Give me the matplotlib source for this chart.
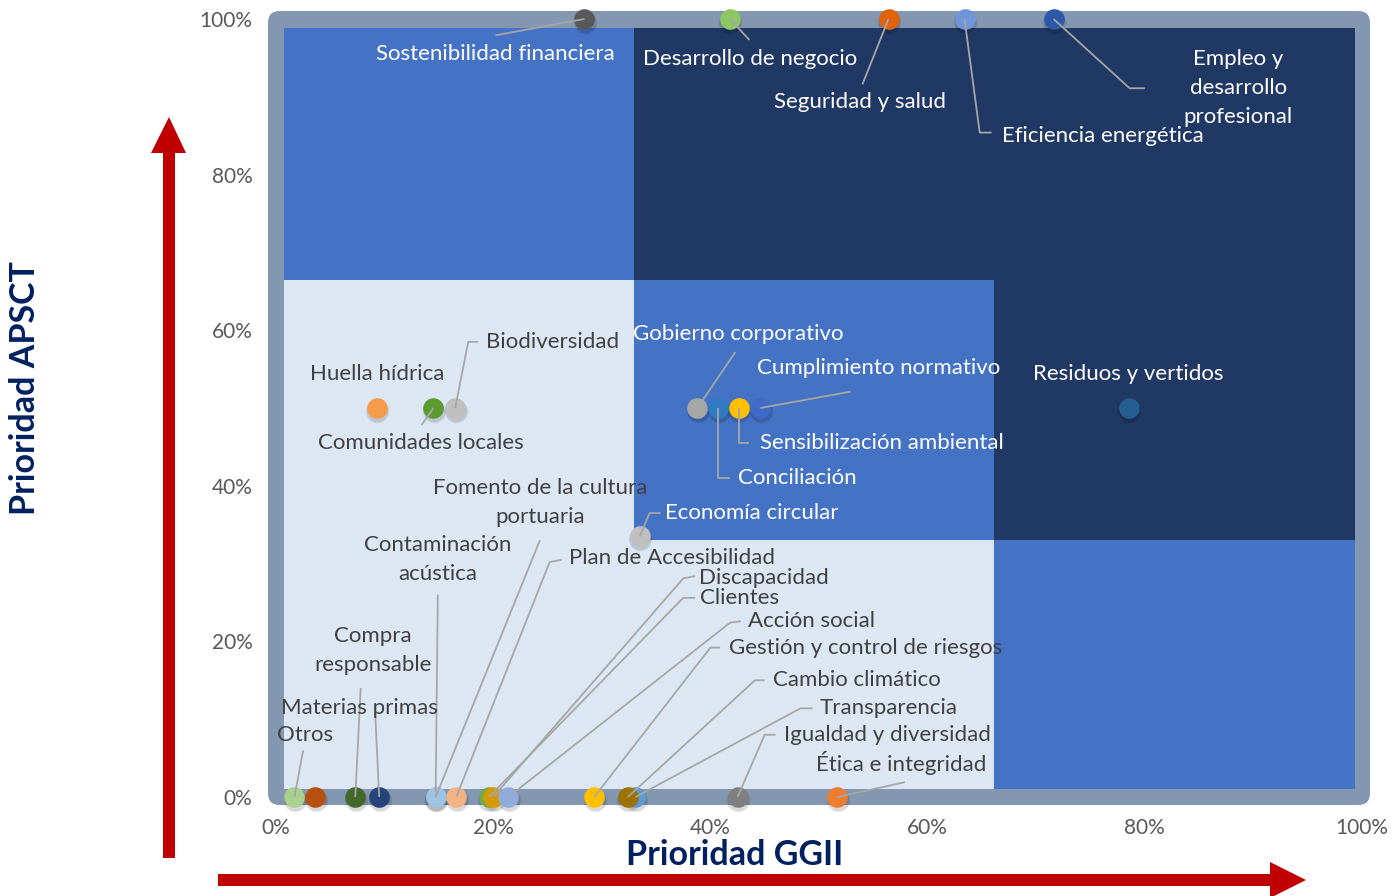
import matplotlib
matplotlib.use("Agg")
import matplotlib.pyplot as plt
from matplotlib.patches import FancyBboxPatch, Rectangle, Polygon
from matplotlib import transforms
import numpy as np

# ---------------- data ----------------
names = [
    "Sostenibilidad financiera", "Desarrollo de negocio", "Seguridad y salud",
    "Eficiencia energética", "Empleo y\ndesarrollo\nprofesional",
    "Biodiversidad", "Huella hídrica", "Comunidades locales", "Gobierno corporativo",
    "Cumplimiento normativo", "Residuos y vertidos", "Sensibilización ambiental",
    "Conciliación", "Economía circular",
    "Fomento de la cultura\nportuaria", "Contaminación\nacústica", "Plan de Accesibilidad",
    "Discapacidad", "Clientes", "Acción social", "Gestión y control de riesgos",
    "Cambio climático", "Transparencia", "Igualdad y diversidad", "Ética e integridad",
    "Compra\nresponsable", "Materias primas", "Otros", "",
]
ggii = [28.4, 41.8, 56.4, 63.4, 71.6,
        16.5, 9.3, 14.5, 38.8, 44.6, 78.5, 42.6, 40.7, 33.5,
        14.7, 14.7, 16.6, 20.0, 19.6, 21.4, 29.3, 32.4, 33.1, 42.5, 51.7,
        7.3, 9.5, 1.7, 3.6]
apsct = [100, 100, 100, 100, 100,
         50, 50, 50, 50, 50, 50, 50, 50, 33.5,
         0, 0, 0, 0, 0, 0, 0, 0, 0, 0, 0,
         0, 0, 0, 0]
colors = ["#595959", "#8CC862", "#E0620D", "#6F96DC", "#2E58A8",
          "#BFBFBF", "#F69A4C", "#5A9A2E", "#A6A6A6", "#3F6AC6", "#255E91", "#FFC000",
          "#2E7BC4", "#BFBFBF",
          "#A6A6A6", "#9DC3E6", "#F4B183", "#D49A00", "#70AD47", "#8FAADC", "#FFC000",
          "#9C7200", "#5B9BD5", "#7F7F7F", "#ED7D31",
          "#43682B", "#264478", "#A9D18E", "#B7500F"]
draw_order = list(range(len(names)))
draw_order.remove(18); draw_order.insert(14, 18)
draw_order.remove(21); draw_order.append(21)

# label anchor positions (data units) and white/dark text
label_pos = [(20.2, 95.5), (43.7, 94.9), (53.8, 89.3), (76.1, 85.0), (88.6, 91.1),
             (25.5, 58.5), (9.3, 54.4), (13.3, 45.5), (42.6, 59.5), (55.5, 55.1),
             (78.5, 54.4), (55.8, 45.5), (48.0, 41.0), (43.8, 36.5),
             (24.3, 37.9), (14.9, 30.5), (36.5, 30.7), (44.9, 28.2), (42.7, 25.6),
             (49.3, 22.6), (54.3, 19.2), (53.5, 15.0), (56.4, 11.4), (56.3, 8.0),
             (57.6, 4.4), (8.9, 18.8), (7.7, 11.4), (2.7, 8.0), (0, 0)]
white = [1, 1, 1, 1, 1,
         0, 0, 0, 1, 1, 1, 1, 1, 1,
         0, 0, 0, 0, 0, 0, 0, 0, 0, 0, 0,
         0, 0, 0, 0]
leaders = {
    0: [(20.2, 97.9)],
    1: [(43.6, 97.3)],
    2: [(54.0, 91.6)],
    3: [(64.8, 85.4), (65.9, 85.4)],
    4: [(78.6, 91.1), (80.0, 91.1)],
    5: [(17.7, 58.5), (18.6, 58.5)],
    7: [(13.4, 47.8)],
    8: [(42.3, 57.2)],
    9: [(52.9, 52.1)],
    11: [(42.6, 45.5), (43.6, 45.5)],
    12: [(40.7, 41.0), (41.8, 41.0)],
    13: [(34.4, 36.5), (35.4, 36.5)],
    14: [(24.3, 33.0)],
    15: [(14.9, 26.0)],
    16: [(25.2, 30.2), (26.3, 30.5)],
    17: [(37.5, 28.1), (38.6, 28.4)],
    18: [(37.5, 25.6), (38.6, 25.6)],
    19: [(41.8, 22.4), (42.8, 22.6)],
    20: [(40.0, 19.2), (40.9, 19.2)],
    21: [(44.1, 15.0), (45.0, 15.0)],
    22: [(48.3, 11.4), (49.4, 11.4)],
    23: [(45.0, 8.0), (46.0, 8.0)],
    24: [(57.9, 1.9)],
    25: [(7.8, 14.0)],
    26: [(9.1, 11.8)],
    27: [(2.5, 6.0)],
}
xticks = [0, 20, 40, 60, 80, 100]
yticks = [0, 20, 40, 60, 80, 100]
tick_labels = ["0%", "20%", "40%", "60%", "80%", "100%"]

FONT = "Lato"
W, H = 1392, 896
fig = plt.figure(figsize=(W / 100, H / 100), dpi=100)
fig.patch.set_facecolor("white")

ov = fig.add_axes([0, 0, 1, 1])
ov.set_xlim(0, W); ov.set_ylim(H, 0); ov.axis("off")
red = "#C00000"
ov.add_patch(Polygon([(163, 858), (175, 858), (175, 153), (186, 153), (169, 117),
                      (151, 153), (163, 153)], closed=True, color=red, lw=0))
ov.add_patch(Polygon([(218, 874), (1270, 874), (1270, 862), (1306, 880), (1270, 898),
                      (1270, 886), (218, 886)], closed=True, color=red, lw=0))

ax = fig.add_axes([276 / W, 1 - 797 / H, 1086 / W, 778 / H])
ax.set_xlim(0, 100); ax.set_ylim(0, 100)
ax.patch.set_alpha(0)
for s in ax.spines.values():
    s.set_visible(False)

frame = FancyBboxPatch((-0.74, -1.03), 101.48, 102.06,
                       boxstyle="round,pad=0,rounding_size=1.1", mutation_aspect=1.4,
                       fc="#8497B0", ec="none", clip_on=False, zorder=0)
ax.add_patch(frame)
light, mid, dark = "#DDE7F4", "#4472C4", "#203864"
zones = [
    (0.74, 1.0, 65.4, 65.4, light),
    (0.74, 66.4, 32.3, 32.4, mid),
    (33.0, 33.0, 66.4, 65.8, dark),
    (33.0, 33.0, 33.1, 33.4, mid),
    (66.1, 1.0, 33.3, 32.0, mid),
]
for x0, y0, w, h, c in zones:
    ax.add_patch(Rectangle((x0, y0), w, h, fc=c, ec="none", zorder=1, clip_on=False))

sh = transforms.offset_copy(ax.transData, fig=fig, x=0.5, y=-2.5, units="dots")
for i in draw_order:
    ax.scatter(ggii[i], apsct[i], s=250, color="black", alpha=0.10, lw=0,
               transform=sh, zorder=3, clip_on=False)
    ax.scatter(ggii[i], apsct[i], s=290, color="black", alpha=0.05, lw=0,
               transform=sh, zorder=3, clip_on=False)
    ax.scatter(ggii[i], apsct[i], s=220, color=colors[i], lw=0, zorder=4, clip_on=False)

for i, pts in leaders.items():
    xs = [ggii[i]] + [p[0] for p in pts]
    ys = [apsct[i]] + [p[1] for p in pts]
    ax.plot(xs, ys, color="#A6A6A6", lw=1.3, zorder=5, clip_on=False,
            solid_capstyle="butt")

for i, name in enumerate(names):
    if not name:
        continue
    lx, ly = label_pos[i]
    ax.text(lx, ly, name, ha="center", va="center", fontsize=16, family=FONT,
            color="white" if white[i] else "#404040", zorder=6,
            linespacing=1.55)

ax.set_xticks(xticks)
ax.set_xticklabels(tick_labels)
ax.set_yticks(yticks)
ax.set_yticklabels(tick_labels)
ax.tick_params(length=0, labelsize=15, labelcolor="#595959", pad=17)
ax.tick_params(axis="x", pad=15)
for t in ax.get_xticklabels() + ax.get_yticklabels():
    t.set_family(FONT)

fig.text(735 / W, 1 - 855 / H, "Prioridad GGII", ha="center", va="center",
         fontsize=24.5, fontweight="bold", color="#002060", family=FONT)
fig.text(25 / W, 1 - 388 / H, "Prioridad APSCT", ha="center", va="center",
         rotation=90, fontsize=24.5, fontweight="bold", color="#002060", family=FONT)

fig.savefig("out.png", dpi=100)
